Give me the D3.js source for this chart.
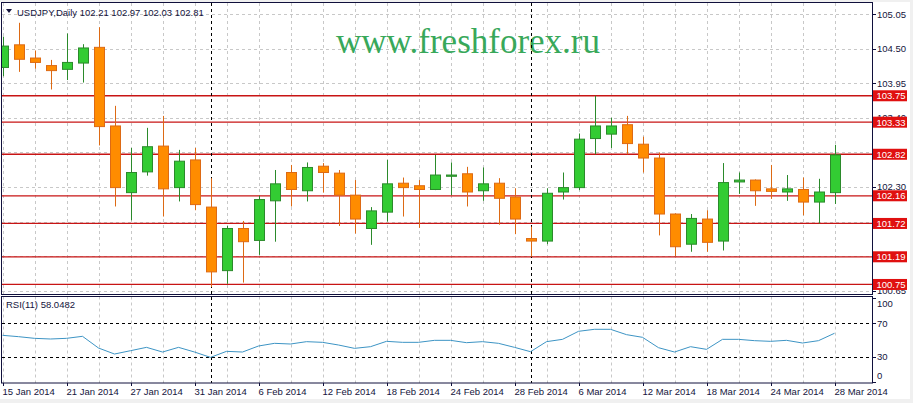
<!DOCTYPE html>
<html>
<head>
<meta charset="utf-8">
<title>USDJPY Daily</title>
<script src="https://d3js.org/d3.v7.min.js"></script>
<style>
  body { margin: 0; background: #f0f0f0; }
  svg { display: block; }
  text { font-family: "Liberation Sans", Arial, sans-serif; font-size: 9.5px; fill: #14143c; }
</style>
</head>
<body>
<svg width="913" height="403"></svg>
<script>
// trading days shown on the chart
var dates = [
  "2014-01-15","2014-01-16","2014-01-17","2014-01-20","2014-01-21","2014-01-22","2014-01-23","2014-01-24",
  "2014-01-27","2014-01-28","2014-01-29","2014-01-30","2014-01-31",
  "2014-02-03","2014-02-04","2014-02-05","2014-02-06","2014-02-07","2014-02-10","2014-02-11","2014-02-12",
  "2014-02-13","2014-02-14","2014-02-17","2014-02-18","2014-02-19","2014-02-20","2014-02-21","2014-02-24",
  "2014-02-25","2014-02-26","2014-02-27","2014-02-28",
  "2014-03-03","2014-03-04","2014-03-05","2014-03-06","2014-03-07","2014-03-10","2014-03-11","2014-03-12",
  "2014-03-13","2014-03-14","2014-03-17","2014-03-18","2014-03-19","2014-03-20","2014-03-21","2014-03-24",
  "2014-03-25","2014-03-26","2014-03-27","2014-03-28"
];
var open  = [104.20,104.56,104.35,104.23,104.17,104.27,104.52,103.27,102.21,102.54,102.95,102.29,102.73,
             101.98,100.97,101.64,101.45,102.08,102.53,102.24,102.63,102.52,102.17,101.64,101.90,102.36,102.32,
             102.26,102.47,102.51,102.24,102.36,102.14,101.48,101.44,102.22,102.29,103.07,103.14,103.29,102.98,
             102.76,101.87,101.39,101.79,101.44,102.38,102.41,102.27,102.22,102.26,102.06,102.21];
var high  = [104.69,104.91,104.47,104.32,104.74,104.57,104.84,103.59,102.92,103.24,103.43,102.89,102.92,
             102.44,101.68,101.76,102.16,102.57,102.65,102.69,102.68,102.57,102.41,101.98,102.73,102.45,102.41,
             102.81,102.69,102.62,102.61,102.44,102.28,101.67,102.28,102.53,103.15,103.75,103.40,103.43,103.10,
             102.85,101.88,101.87,101.93,102.68,102.53,102.42,102.65,102.49,102.45,102.43,102.97];
var low   = [104.06,104.13,104.18,103.85,104.00,103.96,102.96,101.99,101.77,102.48,101.83,102.07,101.93,
             100.71,100.76,100.78,101.22,101.43,101.99,102.07,102.21,101.68,101.56,101.38,101.75,101.83,101.65,
             102.25,102.17,101.99,102.08,101.70,101.55,101.19,101.39,102.10,102.25,102.82,102.92,102.82,102.53,
             101.53,101.20,101.27,101.27,101.29,102.19,102.00,102.11,102.08,101.85,101.72,102.03];
var close = [104.54,104.33,104.28,104.15,104.28,104.51,103.26,102.29,102.53,102.94,102.27,102.71,102.02,
             100.95,101.64,101.43,102.10,102.35,102.26,102.61,102.53,102.17,101.79,101.92,102.35,102.29,102.26,
             102.49,102.49,102.22,102.35,102.12,101.79,101.44,102.20,102.29,103.06,103.27,103.27,102.99,102.76,
             101.87,101.35,101.80,101.42,102.37,102.41,102.24,102.23,102.27,102.06,102.22,102.81];
var rsi   = [55.6,54.0,52.0,51.2,52.0,54.4,40.4,33.2,37.2,41.2,35.6,41.2,35.6,
             29.2,36.4,35.6,42.8,46.0,45.2,48.0,47.2,44.0,40.0,42.0,48.4,47.2,47.2,
             49.6,49.6,46.8,48.0,46.0,41.2,36.0,48.0,50.8,60.4,62.8,62.8,56.4,53.2,
             40.8,35.6,42.0,38.8,50.8,50.8,49.2,48.4,49.6,46.4,49.2,58.05];
var priceTicks = [105.05,104.50,103.95,103.40,102.85,102.30,101.75,101.20,100.65];
var levels = [103.75,103.33,102.82,102.16,101.72,101.19,100.75];
var rsiTicks = [100,70,30,0];
var rsiLevels = [70,30];
var separators = ["2014-02-03","2014-03-03"];

var svg = d3.select("svg");
var L = 2, R = 872, mainTop = 3, mainBot = 294, rsiTop = 296.5, rsiBot = 383;

svg.append("rect").attr("x", 0).attr("y", 2).attr("width", 910).attr("height", 397).attr("fill", "#fff");

var parse = d3.timeParse("%Y-%m-%d");
var fmt = d3.timeFormat("%-d %b %Y");

var x = d3.scalePoint().domain(dates).range([2.5, 834.5]);
var y = d3.scaleLinear().domain([100.65, 105.05]).range([290.76, 14]);
var yr = d3.scaleLinear().domain([0, 100]).range([381.75, 298.25]);

var defs = svg.append("defs");
defs.append("clipPath").attr("id", "clipMain").append("rect")
  .attr("x", L).attr("y", mainTop).attr("width", R - L).attr("height", mainBot - mainTop);
defs.append("clipPath").attr("id", "clipRsi").append("rect")
  .attr("x", L).attr("y", rsiTop).attr("width", R - L).attr("height", rsiBot - rsiTop);

// grid
var gridX = dates.filter(function(d, i) { return i % 2 === 0; });
[[mainTop, mainBot], [rsiTop, rsiBot]].forEach(function(p) {
  svg.append("g").selectAll("line").data(gridX).enter().append("line")
    .attr("x1", function(d) { return Math.round(x(d)) + 0.5; })
    .attr("x2", function(d) { return Math.round(x(d)) + 0.5; })
    .attr("y1", p[0]).attr("y2", p[1])
    .attr("stroke", "#c8c8c8").attr("stroke-dasharray", "3,3");
});
svg.append("g").selectAll("line").data(priceTicks).enter().append("line")
  .attr("x1", L).attr("x2", R)
  .attr("y1", function(d) { return Math.round(y(d)) + 0.5; })
  .attr("y2", function(d) { return Math.round(y(d)) + 0.5; })
  .attr("stroke", "#c8c8c8").attr("stroke-dasharray", "3,3");

// RSI levels
svg.append("g").selectAll("line").data(rsiLevels).enter().append("line")
  .attr("x1", L).attr("x2", R)
  .attr("y1", function(d) { return Math.round(yr(d)) + 0.5; })
  .attr("y2", function(d) { return Math.round(yr(d)) + 0.5; })
  .attr("stroke", "#000").attr("stroke-dasharray", "3,3");

// red levels
svg.append("g").selectAll("line").data(levels).enter().append("line")
  .attr("x1", L).attr("x2", R)
  .attr("y1", function(d) { return y(d); })
  .attr("y2", function(d) { return y(d); })
  .attr("stroke", "#c81414").attr("stroke-width", 1.3);

// watermark
svg.append("text").attr("x", 336).attr("y", 53)
  .style("font-family", "'Liberation Serif', 'Times New Roman', serif")
  .style("font-size", "35px").style("fill", "#38a85a")
  .text("www.freshforex.ru");

// month separators
svg.append("g").selectAll("line").data(separators).enter().append("line")
  .attr("x1", function(d) { return Math.round(x(d)) + 0.5; })
  .attr("x2", function(d) { return Math.round(x(d)) + 0.5; })
  .attr("y1", mainTop).attr("y2", rsiBot)
  .attr("stroke", "#000").attr("stroke-dasharray", "3,3");

// candles
var idx = d3.range(dates.length);
var up = function(i) { return close[i] >= open[i]; };
var candles = svg.append("g").attr("clip-path", "url(#clipMain)")
  .selectAll("g").data(idx).enter().append("g");
candles.append("line")
  .attr("x1", function(i) { return Math.round(x(dates[i])) + 0.5; })
  .attr("x2", function(i) { return Math.round(x(dates[i])) + 0.5; })
  .attr("y1", function(i) { return y(high[i]); })
  .attr("y2", function(i) { return y(low[i]); })
  .attr("stroke", function(i) { return up(i) ? "#2b8a2b" : "#dd6a14"; });
candles.append("rect")
  .attr("x", function(i) { return Math.round(x(dates[i])) - 4.5; })
  .attr("width", 10)
  .attr("y", function(i) { return y(Math.max(open[i], close[i])); })
  .attr("height", function(i) { return Math.max(1, Math.abs(y(open[i]) - y(close[i]))); })
  .attr("fill", function(i) { return up(i) ? "#33cc33" : "#ff8c00"; })
  .attr("stroke", function(i) { return up(i) ? "#2b8a2b" : "#dd6a14"; });

// RSI line
svg.append("path").datum(idx).attr("clip-path", "url(#clipRsi)")
  .attr("fill", "none").attr("stroke", "#3d94c4").attr("stroke-width", 1)
  .attr("d", d3.line().x(function(i) { return x(dates[i]); }).y(function(i) { return yr(rsi[i]); }));

// panel frames
svg.append("rect").attr("x", L - 0.5).attr("y", mainTop - 0.5).attr("width", R - L + 1).attr("height", mainBot - mainTop + 1)
  .attr("fill", "none").attr("stroke", "#10103c");
svg.append("rect").attr("x", L - 0.5).attr("y", rsiTop).attr("width", R - L + 1).attr("height", rsiBot - rsiTop)
  .attr("fill", "none").attr("stroke", "#10103c");

// right price axis (labels that sit fully under a level box are not shown)
var pa = svg.append("g");
pa.selectAll("line").data(priceTicks).enter().append("line")
  .attr("x1", R).attr("x2", R + 4)
  .attr("y1", function(d) { return Math.round(y(d)) + 0.5; })
  .attr("y2", function(d) { return Math.round(y(d)) + 0.5; })
  .attr("stroke", "#10103c");
var shownTicks = priceTicks.filter(function(t) {
  return levels.every(function(l) { return Math.abs(y(t) - y(l)) > 3; });
});
pa.selectAll("text").data(shownTicks).enter().append("text")
  .attr("x", R + 5).attr("y", function(d) { return y(d) + 3.5; })
  .text(function(d) { return d.toFixed(2); });

var lab = svg.append("g").selectAll("g").data(levels).enter().append("g")
  .attr("transform", function(d) { return "translate(" + (R + 1) + "," + y(d) + ")"; });
lab.append("rect").attr("x", 0).attr("y", -5.5).attr("width", 34).attr("height", 11).attr("fill", "#e01010");
lab.append("text").attr("x", 3.5).attr("y", 3.5).style("fill", "#fff")
  .text(function(d) { return d.toFixed(2); });

// RSI axis
var ra = svg.append("g");
ra.selectAll("line").data(rsiTicks).enter().append("line")
  .attr("x1", R).attr("x2", R + 4)
  .attr("y1", function(d) { return Math.round(yr(d)) + 0.5; })
  .attr("y2", function(d) { return Math.round(yr(d)) + 0.5; })
  .attr("stroke", "#10103c");
ra.selectAll("text").data(rsiTicks).enter().append("text")
  .attr("x", R + 5)
  .attr("y", function(d) { return Math.min(rsiBot - 4, Math.max(rsiTop + 10, yr(d) + 3.5)); })
  .text(function(d) { return d; });

// date axis
var labelDates = dates.filter(function(d, i) { return i % 4 === 0; });
var da = svg.append("g");
da.selectAll("line").data(labelDates).enter().append("line")
  .attr("x1", function(d) { return Math.round(x(d)) + 0.5; })
  .attr("x2", function(d) { return Math.round(x(d)) + 0.5; })
  .attr("y1", rsiBot).attr("y2", rsiBot + 3)
  .attr("stroke", "#10103c");
da.selectAll("text").data(labelDates).enter().append("text")
  .attr("x", function(d) { return Math.round(x(d)) - 0.5; })
  .attr("y", 395)
  .text(function(d) { return fmt(parse(d)); });

// titles
svg.append("path").attr("d", "M6,9 L12,9 L9,13 Z").attr("fill", "#14143c");
svg.append("text").attr("x", 17).attr("y", 15.5)
  .text("USDJPY,Daily  102.21 102.97 102.03 102.81");
svg.append("text").attr("x", 6).attr("y", 308).text("RSI(11) 58.0482");
</script>
</body>
</html>
